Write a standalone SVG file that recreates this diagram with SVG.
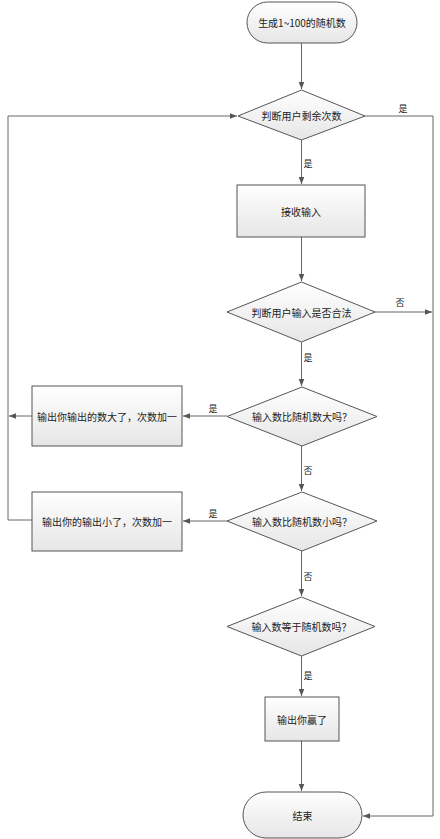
<svg xmlns="http://www.w3.org/2000/svg" width="440" height="839" viewBox="0 0 440 839">
<defs>
<linearGradient id="g" x1="0" y1="0" x2="0" y2="1">
<stop offset="0" stop-color="#ffffff"/>
<stop offset="1" stop-color="#e6e6e6"/>
</linearGradient>
<marker id="a" viewBox="0 0 10 10" refX="10" refY="5" markerWidth="7" markerHeight="7" orient="auto" markerUnits="userSpaceOnUse">
<path d="M0,1 L10,5 L0,9 z" fill="#555"/>
</marker>
<style>
.s{fill:url(#g);stroke:#555;stroke-width:1}
.t{font-family:"Noto Sans CJK SC","Liberation Sans",sans-serif;font-size:10px;fill:#222;text-anchor:middle;dominant-baseline:central}
.l{font-family:"Noto Sans CJK SC","Liberation Sans",sans-serif;font-size:9px;fill:#222;text-anchor:middle;dominant-baseline:central}
.c{fill:none;stroke:#666;stroke-width:1}
</style>
</defs>
<rect width="440" height="839" fill="#fff"/>
<g id="connectors">
<path class="c" d="M301.5,43 V89" marker-end="url(#a)"/>
<path class="c" d="M301.5,140 V184" marker-end="url(#a)"/>
<path class="c" d="M301.5,237 V281" marker-end="url(#a)"/>
<path class="c" d="M301.5,342 V386" marker-end="url(#a)"/>
<path class="c" d="M301.5,446 V491" marker-end="url(#a)"/>
<path class="c" d="M301.5,551 V596" marker-end="url(#a)"/>
<path class="c" d="M301.5,656 V696" marker-end="url(#a)"/>
<path class="c" d="M301.5,741 V791" marker-end="url(#a)"/>
<path class="c" d="M365,116 H433 V816 H363" marker-end="url(#a)"/>
<path class="c" d="M375,312 H432" marker-end="url(#a)"/>
<path class="c" d="M227,416 H183" marker-end="url(#a)"/>
<path class="c" d="M227,521 H183" marker-end="url(#a)"/>
<path class="c" d="M32,416 H9" marker-end="url(#a)"/>
<path class="c" d="M32,520 H8 V116 H237" marker-end="url(#a)"/>
<text class="l" x="403" y="108">是</text>
<text class="l" x="308" y="163">是</text>
<text class="l" x="400" y="302">否</text>
<text class="l" x="308" y="357">是</text>
<text class="l" x="213" y="408">是</text>
<text class="l" x="308" y="470">否</text>
<text class="l" x="213" y="513">是</text>
<text class="l" x="308" y="576">否</text>
<text class="l" x="308" y="675">是</text>
</g>
<g id="start"><rect class="s" x="247" y="2" width="110" height="41" rx="20.5"/><text class="t" x="302" y="22.5">生成1~100的随机数</text></g>
<g id="d1"><polygon class="s" points="301.5,90 365,116 301.5,140 238,116"/><text class="t" x="301.5" y="115.5">判断用户剩余次数</text></g>
<g id="recv"><rect class="s" x="237" y="185" width="128" height="52"/><text class="t" x="301" y="211">接收输入</text></g>
<g id="d2"><polygon class="s" points="301.5,282 375,312 301.5,342 227,312"/><text class="t" x="301.5" y="312">判断用户输入是否合法</text></g>
<g id="d3"><polygon class="s" points="302,387 377,416.5 302,446 227,416.5"/><text class="t" x="302" y="416">输入数比随机数大吗？</text></g>
<g id="b1"><rect class="s" x="32" y="386" width="150" height="60"/><text class="t" x="107" y="416">输出你输出的数大了，次数加一</text></g>
<g id="d4"><polygon class="s" points="302,492 377,521 302,551 227,521"/><text class="t" x="302" y="521">输入数比随机数小吗？</text></g>
<g id="b2"><rect class="s" x="32" y="492" width="150" height="59"/><text class="t" x="107" y="521">输出你的输出小了，次数加一</text></g>
<g id="d5"><polygon class="s" points="301.5,597 375,626.5 301.5,656 227,626.5"/><text class="t" x="301.5" y="626.5">输入数等于随机数吗？</text></g>
<g id="win"><rect class="s" x="265" y="697" width="74" height="44"/><text class="t" x="302" y="719">输出你赢了</text></g>
<g id="end"><rect class="s" x="243" y="792" width="119" height="46" rx="23"/><text class="t" x="302.5" y="815">结束</text></g>
</svg>
